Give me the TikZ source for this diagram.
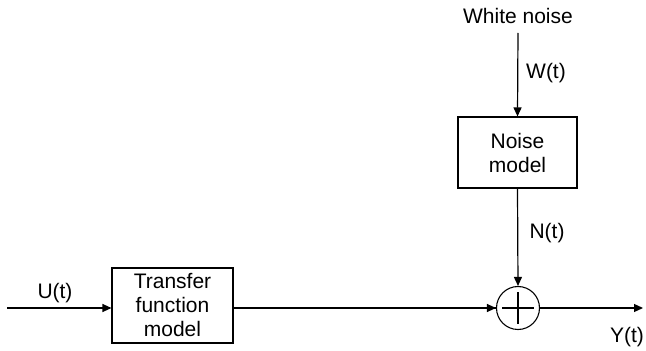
\documentclass[tikz,border=0pt]{standalone}
\usepackage{fontspec}
\setmainfont{Liberation Sans}
\usetikzlibrary{arrows.meta}
\begin{document}
\begin{tikzpicture}[x=1pt,y=1pt,
  every node/.style={font=\fontsize{21}{24}\selectfont},
  blockbox/.style={draw, line width=1.1pt, align=center, inner sep=0pt},
  sig/.style={line width=1.2pt, -{Triangle[length=9pt,width=8pt]}},
  plain/.style={line width=1.2pt}]
\useasboundingbox (0,0) rectangle (646,351);

% blocks
\node[blockbox, minimum width=121pt, minimum height=75pt] (tf) at (172.5,45.5)
  {Transfer\\function\\model};
\node[blockbox, minimum width=119pt, minimum height=71pt] (nm) at (517.5,198.5)
  {Noise\\model};
\node[draw, circle, line width=1.1pt, minimum size=43pt, inner sep=0pt] (sum) at (518,43) {};
\draw[line width=1.1pt] ([xshift=-16pt]sum.center) -- ([xshift=16pt]sum.center)
  ([yshift=-16pt]sum.center) -- ([yshift=16pt]sum.center);

% free ends
\coordinate (in) at (7,43);
\coordinate (out) at (643,43);
\node (wn) at (518,335) {White noise};
\coordinate (wtop) at (518,318);

% connectors
\draw[sig] (in) -- (in -| tf.west);
\draw[plain] (in -| tf.east) -- (sum.west);
\draw[sig] ([xshift=-12pt]sum.west) -- (sum.west);
\draw[sig] (sum.east) -- (out);
\draw[sig] (wtop) -- (nm.north);
\draw[sig] (nm.south) -- (sum.north);

% labels
\node (u) at (55,58) {U(t)};
\node (w) at (546,278) {W(t)};
\node (n) at (547,118) {N(t)};
\node (y) at (627,14) {Y(t)};
\end{tikzpicture}
\end{document}
